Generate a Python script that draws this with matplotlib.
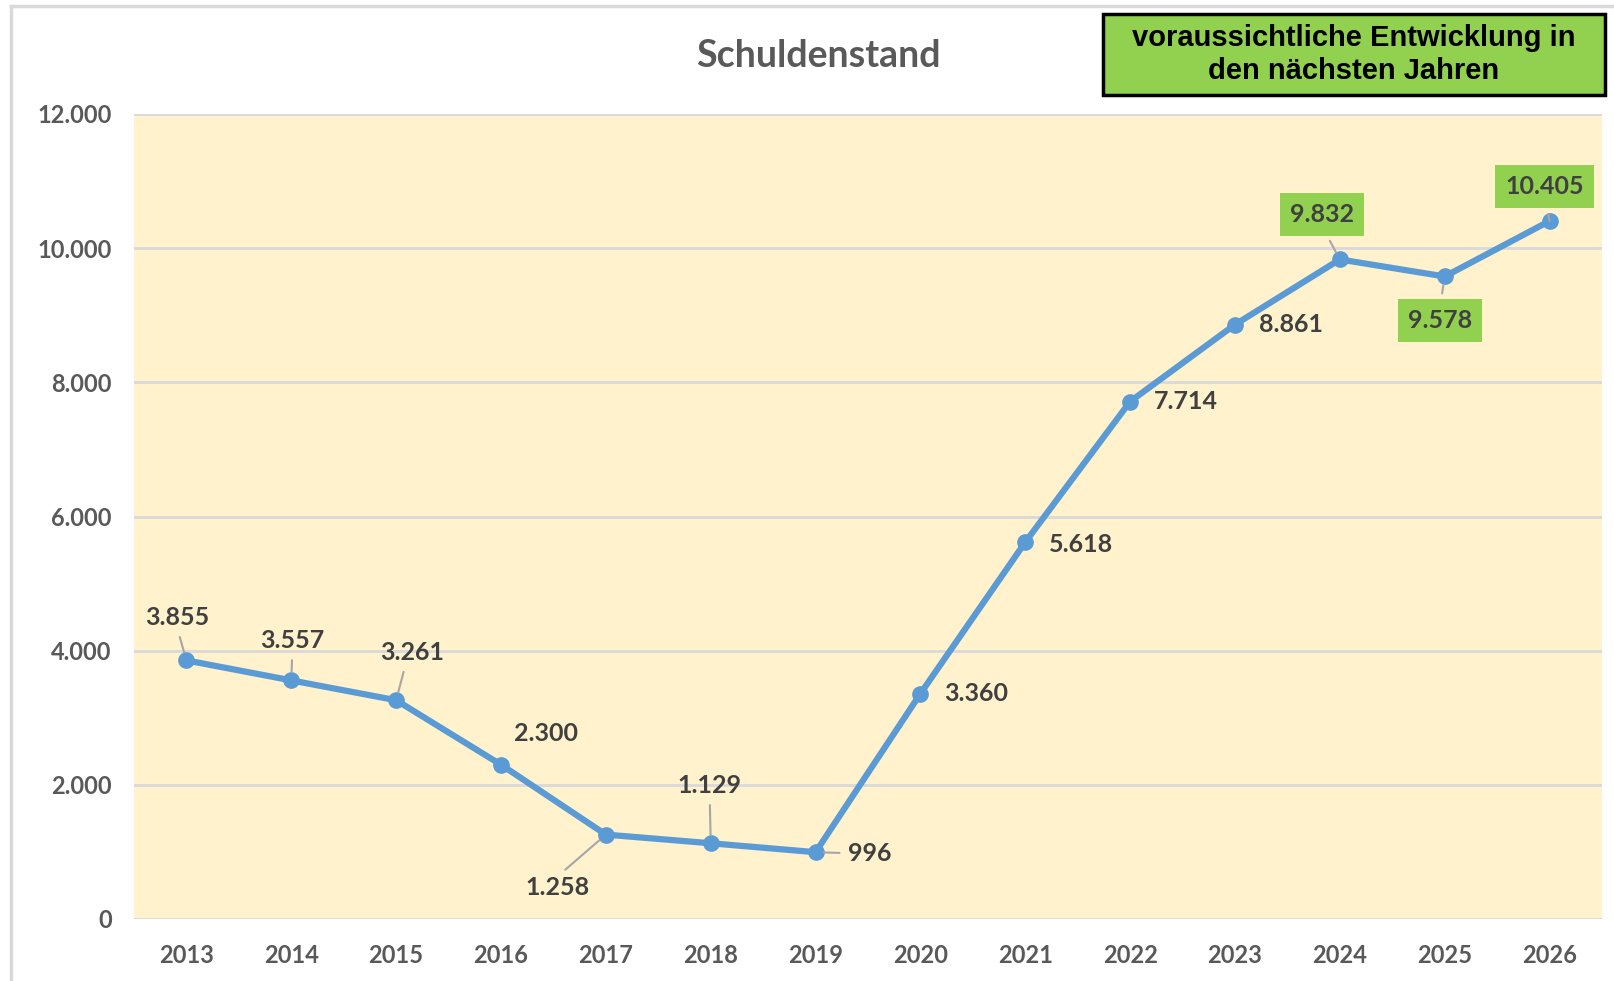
import matplotlib
matplotlib.use("Agg")
import matplotlib.pyplot as plt
from matplotlib.patches import Rectangle
from matplotlib.lines import Line2D

years = ["2013", "2014", "2015", "2016", "2017", "2018", "2019",
         "2020", "2021", "2022", "2023", "2024", "2025", "2026"]
debt = [3855, 3557, 3261, 2300, 1258, 1129, 996,
        3360, 5618, 7714, 8861, 9832, 9578, 10405]
labels = ["3.855", "3.557", "3.261", "2.300", "1.258", "1.129", "996",
          "3.360", "5.618", "7.714", "8.861", "9.832", "9.578", "10.405"]
yticks = [0, 2000, 4000, 6000, 8000, 10000, 12000]
ytick_labels = ["0", "2.000", "4.000", "6.000", "8.000", "10.000", "12.000"]
forecast = [False]*11 + [True]*3

title = "Schuldenstand"
note = "voraussichtliche Entwicklung in\nden nächsten Jahren"

# label offsets (pixels) and leader relpos (None = no leader)
offsets = [(-9, 43), (1, 40), (16, 48), (45, 31), (-48, -53), (-1, 58), (54, -1),
           (56, 0), (56, -2), (56, 0), (56, 0), (-18, 45), (-5, -44), (-5, 34)]
leaders = [(0.5, 0), (0.5, 0), (0.4, 0), None, (0.5, 1), (0.5, 0), (0, 0.5),
           None, None, None, None, (0.5, 0), (0.5, 1), (0.5, 0)]

W, H = 1615, 981
fig = plt.figure(figsize=(W/100, H/100), dpi=100)
fig.patch.set_facecolor("white")

# outer chart border
fig.add_artist(Line2D([11/W, 11/W], [0, 1 - 6/H], color="#D9D9D9", lw=2.5, transform=fig.transFigure))
fig.add_artist(Line2D([11/W, 1], [1 - 6/H, 1 - 6/H], color="#D9D9D9", lw=2.5, transform=fig.transFigure))

ax = fig.add_axes([134/W, 1 - 919/H, (1602-134)/W, (919-114)/H])
ax.set_facecolor("#FFF2CC")
x = list(range(len(years)))
ax.set_xlim(-0.5, len(years) - 0.5)
ax.set_ylim(0, 12000)
ax.set_yticks(yticks)
ax.set_yticklabels(ytick_labels)
ax.set_xticks(x)
ax.set_xticklabels(years)
ax.grid(axis="y", color="#D9D9D9", lw=2)
ax.set_axisbelow(True)
for s in ax.spines.values():
    s.set_visible(False)
ax.tick_params(length=0, labelsize=17, labelcolor="#595959")
ax.tick_params(axis="y", pad=16)
ax.tick_params(axis="x", pad=18)
for t in ax.get_xticklabels() + ax.get_yticklabels():
    t.set_fontfamily("Lato")
    t.set_fontweight("bold")

ax.plot(x, debt, color="#5B9BD5", lw=4.5, marker="o", markersize=11,
        markerfacecolor="#5B9BD5", markeredgecolor="#5B9BD5", zorder=3, clip_on=False)

for i in range(len(years)):
    dx, dy = offsets[i]
    kw = {}
    if leaders[i] is not None:
        kw["arrowprops"] = dict(arrowstyle="-", color="#A6A6A6", lw=1.5,
                                shrinkA=4, shrinkB=6, relpos=leaders[i])
    if forecast[i]:
        kw["bbox"] = dict(boxstyle="square,pad=0.4", facecolor="#92D050", edgecolor="none")
    ax.annotate(labels[i], xy=(x[i], debt[i]), xytext=(dx, dy), textcoords="offset pixels",
                ha="center", va="center", fontsize=18, fontweight="bold",
                fontfamily="Lato", color="#404040", zorder=5, **kw)

fig.text(795*1.03/W, 1 - 54*1.03/H, title, ha="center", va="center", fontsize=27,
         fontweight="bold", fontfamily="Lato", color="#595959")

# note box
bx0, by0, bx1, by1 = 1103, 14, 1605, 95
fig.add_artist(Rectangle((bx0/W, 1 - by1/H), (bx1-bx0)/W, (by1-by0)/H,
                         facecolor="#92D050", edgecolor="black", lw=2.5,
                         transform=fig.transFigure))
fig.text((bx0+bx1)/2/W, 1 - (by0+by1)/2/H, note, ha="center", va="center",
         fontsize=21, fontweight="bold", fontfamily="Liberation Sans",
         color="black", linespacing=1.2)

fig.savefig("out.png", dpi=100)
